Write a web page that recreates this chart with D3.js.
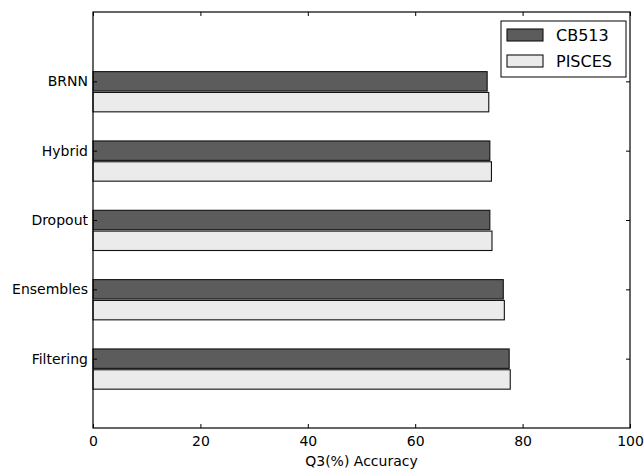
<!DOCTYPE html>
<html>
<head>
<meta charset="utf-8">
<script src="https://cdn.jsdelivr.net/npm/d3@7"></script>
<style>
  html, body { margin: 0; padding: 0; background: #fff; }
  svg { display: block; font-family: "DejaVu Sans", sans-serif; }
</style>
</head>
<body>
<svg id="chart" width="644" height="471"></svg>
<script>
// Q3 accuracy per method on two benchmark sets
const methods = ["BRNN", "Hybrid", "Dropout", "Ensembles", "Filtering"];
const cb513   = [73.4, 73.9, 73.9, 76.4, 77.5];
const pisces  = [73.7, 74.2, 74.3, 76.6, 77.7];
const xTicks  = [0, 20, 40, 60, 80, 100];
const seriesNames = ["CB513", "PISCES"];

const svg = d3.select("#chart");
const margin = { left: 93, right: 14, top: 12, bottom: 43 };
const W = 644, H = 471;
const x0 = margin.left, x1 = W - margin.right;
const y0 = margin.top, y1 = H - margin.bottom;

const x = d3.scaleLinear().domain([0, 100]).range([x0, x1]);
// category index positions, one unit apart, with a unit of padding on each end
const y = d3.scaleLinear().domain([-1, 5]).range([y0, y1]);

const barH = 0.28;     // bar thickness in category units
const offset = 0.30;   // second series sits below the first

const series = [
  { name: seriesNames[0], values: cb513, fill: "#5c5c5c", shift: 0 },
  { name: seriesNames[1], values: pisces, fill: "#ebebeb", shift: offset }
];

const g = svg.append("g");

series.forEach(s => {
  g.selectAll(null)
    .data(methods.map((m, i) => ({ m, i, v: s.values[i] })))
    .enter().append("rect")
    .attr("x", x(0))
    .attr("y", d => y(d.i + s.shift - barH / 2))
    .attr("width", d => x(d.v) - x(0))
    .attr("height", d => y(barH) - y(0))
    .attr("fill", s.fill)
    .attr("stroke", "#111")
    .attr("stroke-width", 1.1);
});

// axes: ticks point inward on all four sides
const tickLen = 4;
const xAxisB = d3.axisBottom(x).tickValues(xTicks).tickSizeInner(-tickLen).tickSizeOuter(0).tickPadding(8).tickFormat(d3.format("d"));
const xAxisT = d3.axisTop(x).tickValues(xTicks).tickSizeInner(-tickLen).tickSizeOuter(0).tickFormat("");
const yAxisL = d3.axisLeft(y).tickValues(d3.range(methods.length)).tickSizeInner(-tickLen).tickSizeOuter(0).tickPadding(5).tickFormat(i => methods[i]);
const yAxisR = d3.axisRight(y).tickValues(d3.range(methods.length)).tickSizeInner(-tickLen).tickSizeOuter(0).tickFormat("");

function styleAxis(sel) {
  sel.select(".domain").remove();
  sel.selectAll(".tick line").attr("stroke", "#000").attr("stroke-width", 1);
  sel.selectAll(".tick text").attr("fill", "#000").style("font-size", "14px").style("font-family", "DejaVu Sans, sans-serif");
}

svg.append("g").attr("transform", `translate(0,${y1})`).call(xAxisB).call(styleAxis);
svg.append("g").attr("transform", `translate(0,${y0})`).call(xAxisT).call(styleAxis);
svg.append("g").attr("transform", `translate(${x0},0)`).call(yAxisL).call(styleAxis);
svg.append("g").attr("transform", `translate(${x1},0)`).call(yAxisR).call(styleAxis);

// plot frame
svg.append("rect")
  .attr("x", x0).attr("y", y0)
  .attr("width", x1 - x0).attr("height", y1 - y0)
  .attr("fill", "none").attr("stroke", "#000").attr("stroke-width", 1.2);

// axis title
svg.append("text")
  .attr("x", (x0 + x1) / 2).attr("y", 466)
  .attr("text-anchor", "middle")
  .style("font-size", "14px")
  .text("Q3(%) Accuracy");

// legend
const lg = svg.append("g").attr("transform", "translate(501,21)");
lg.append("rect").attr("width", 125).attr("height", 56)
  .attr("fill", "#fff").attr("stroke", "#000").attr("stroke-width", 1);
series.forEach((s, i) => {
  const yy = 8 + i * 26;
  lg.append("rect").attr("x", 6).attr("y", yy).attr("width", 36).attr("height", 12)
    .attr("fill", s.fill).attr("stroke", "#111").attr("stroke-width", 1.1);
  lg.append("text").attr("x", 55).attr("y", yy + 12)
    .style("font-size", "16px").text(s.name);
});
</script>
</body>
</html>
